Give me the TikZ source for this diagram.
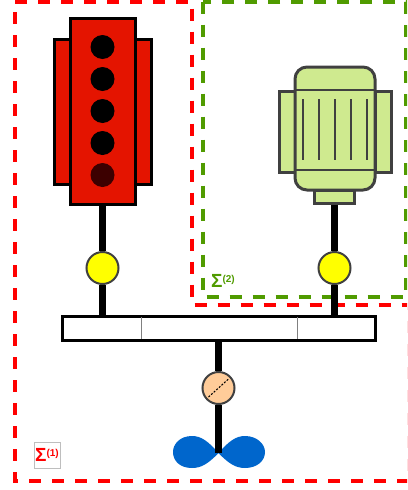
\documentclass[tikz,border=0pt]{standalone}
\usepackage{fontspec}
\setmainfont{Liberation Sans}
\usepackage{xcolor}
\usepackage{tikz}
\usetikzlibrary{positioning, calc}

\definecolor{framered}{RGB}{255,0,0}
\definecolor{framegreen}{RGB}{80,155,0}
\definecolor{enginered}{RGB}{228,20,0}
\definecolor{cylout}{RGB}{60,0,0}
\definecolor{motorgreen}{RGB}{207,234,143}
\definecolor{motorgray}{RGB}{64,64,64}
\definecolor{gearyellow}{RGB}{255,255,0}
\definecolor{couplingorange}{RGB}{255,204,153}
\definecolor{propblue}{RGB}{0,102,204}
\definecolor{labelbox}{RGB}{190,190,190}

\newcommand{\sumsym}[1]{{\fontsize{19}{19}\selectfont Σ}\raisebox{5pt}{\fontsize{10}{10}\selectfont(#1)}}

\tikzset{
    frame/.style={line width=4pt, dash pattern=on 12pt off 11pt},
    enginebody/.style={rectangle, draw=black, line width=3pt, fill=enginered, minimum width=65pt, minimum height=186pt, inner sep=0pt},
    enginepanel/.style={rectangle, draw=black, line width=3pt, fill=enginered, minimum width=16pt, minimum height=145pt, inner sep=0pt},
    cylhole/.style={circle, minimum size=24pt, inner sep=0pt},
    motorbody/.style={rectangle, rounded corners=12pt, draw=motorgray, line width=3pt, fill=motorgreen, minimum width=80pt, minimum height=123pt, inner sep=0pt},
    motorpanel/.style={rectangle, draw=motorgray, line width=3pt, fill=motorgreen, minimum width=16pt, minimum height=81pt, inner sep=0pt},
    motorfoot/.style={rectangle, draw=motorgray, line width=3pt, fill=motorgreen, minimum width=40pt, minimum height=13pt, inner sep=0pt},
    motorline/.style={draw=motorgray, line width=1.2pt},
    gear/.style={circle, draw=motorgray, line width=2pt, fill=gearyellow, minimum size=32pt, inner sep=0pt},
    coupling/.style={circle, draw=motorgray, line width=2pt, fill=couplingorange, minimum size=32pt, inner sep=0pt},
    busbar/.style={rectangle, draw=black, line width=3pt, fill=white, minimum width=313pt, minimum height=24pt, inner sep=0pt},
    busdivider/.style={draw=gray, line width=0.8pt},
    shaft/.style={draw=black, line width=7pt},
    sumlabel/.style={font=\bfseries, inner sep=1pt}
}

\begin{document}
\begin{tikzpicture}[x=1pt, y=-1pt]
    \useasboundingbox (0,0) rectangle (407,490);
    \clip (0,0) rectangle (407,490);

    % Subsystem frames
    \draw [frame, framered] (15,1.5) -- (192,1.5) -- (192,305) -- (409,305)
        -- (409,481) -- (15,481) -- cycle;
    \draw [frame, framegreen] (203,1.5) rectangle (406,297);

    % Engine
    \node (engleft) [enginepanel] at (62,111.5) {};
    \node (engright) [enginepanel] at (143,111.5) {};
    \node (engine) [enginebody] at (102.5,111) {};
    \foreach \y/\c in {47/black, 79/black, 111/black, 143/black, 175/cylout}
        \node (cyl\y) [cylhole, fill=\c] at (102.5,\y) {};

    % Electric motor
    \node (motleft) [motorpanel] at (287,131.5) {};
    \node (motright) [motorpanel] at (383,131.5) {};
    \node (motfoot) [motorfoot] at (334.5,196.5) {};
    \node (motor) [motorbody] at (335,128.5) {};
    \draw [motorline] (296,90) -- (374,90);
    \draw [motorline] (296,170) -- (374,170);
    \foreach \x in {303,319,335,351,367}
        \draw [motorline] (\x,99) -- (\x,160);

    % Gears, gearbox and coupling
    \node (gear1) [gear] at (102.5,268) {};
    \node (gear2) [gear] at (334.5,268) {};
    \node (bus) [busbar] at (218.5,328) {};
    \draw [busdivider] (141,317) -- (141,339);
    \draw [busdivider] (297,317) -- (297,339);
    \node (coup) [coupling] at (218.5,388) {};
    \draw [line width=1pt, dash pattern=on 2pt off 1.5pt] ($(coup.center)+(-10,9)$) -- ($(coup.center)+(10,-9)$);

    % Propeller
    \coordinate (hub) at (218.5,453);
    \fill [propblue] (hub) .. controls (208,441) and (201,436) .. (192,436)
        .. controls (180,436) and (173,444) .. (173,452)
        .. controls (173,461) and (180,468) .. (192,468)
        .. controls (201,468) and (208,464) .. (hub)
        .. controls (229,441) and (236,436) .. (245,436)
        .. controls (257,436) and (265,444) .. (265,452)
        .. controls (265,461) and (257,468) .. (245,468)
        .. controls (236,468) and (229,464) .. (hub);

    % Shafts
    \draw [shaft] (engine) -- (gear1);
    \draw [shaft] (gear1) -- (gear1 |- bus.north);
    \draw [shaft] (motfoot) -- (gear2);
    \draw [shaft] (gear2) -- (gear2 |- bus.north);
    \draw [shaft] (bus) -- (coup);
    \draw [shaft] (coup) -- (hub);

    % Labels
    \node (sum1) [sumlabel, text=framered, draw=labelbox, line width=0.6pt, minimum size=26pt] at (47,455) {\sumsym{1}};
    \node (sum2) [sumlabel, text=framegreen] at (223,281) {\sumsym{2}};
\end{tikzpicture}
\end{document}
